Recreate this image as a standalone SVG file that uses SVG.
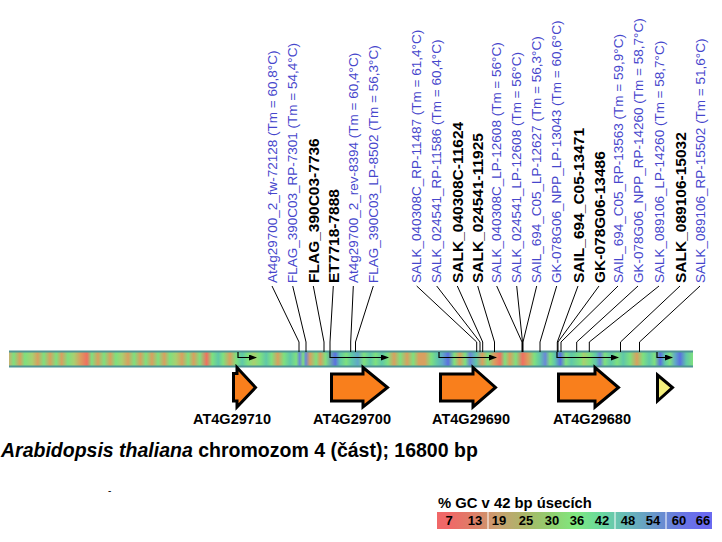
<svg xmlns="http://www.w3.org/2000/svg" width="722" height="542" viewBox="0 0 722 542">
<style>
text{font-family:"Liberation Sans",Arial,sans-serif}
.pb{fill:#4646cc;font-size:13.5px}
.pk{fill:#000;font-size:15.5px;font-weight:bold}
.gl{font-size:14.5px;font-weight:bold;text-anchor:middle}
.gene{fill:#f97f1c;stroke:#000;stroke-width:3;stroke-linejoin:miter}
.con{fill:none;stroke:#000;stroke-width:1}
.tr{fill:none;stroke:#000;stroke-width:1.2;marker-end:url(#ah)}
.lg{font-size:13px;font-weight:bold;text-anchor:middle}
</style>
<defs>
<marker id="ah" markerUnits="userSpaceOnUse" markerWidth="8" markerHeight="6" refX="7" refY="3" orient="auto">
<path d="M0,0 L8,3 L0,6 z" fill="#000"/>
</marker>
<linearGradient id="gc" gradientUnits="userSpaceOnUse" x1="9" y1="0" x2="693" y2="0">
<stop offset="0" stop-color="#c8b070"/>
<stop offset="0.007" stop-color="#7ee07e"/>
<stop offset="0.016" stop-color="#d8a060"/>
<stop offset="0.023" stop-color="#7ee07e"/>
<stop offset="0.034" stop-color="#a8d070"/>
<stop offset="0.042" stop-color="#d8a060"/>
<stop offset="0.051" stop-color="#7ee07e"/>
<stop offset="0.060" stop-color="#d8a060"/>
<stop offset="0.069" stop-color="#7ee07e"/>
<stop offset="0.077" stop-color="#d8a060"/>
<stop offset="0.086" stop-color="#7ee07e"/>
<stop offset="0.095" stop-color="#a8d070"/>
<stop offset="0.104" stop-color="#d8a060"/>
<stop offset="0.114" stop-color="#f07060"/>
<stop offset="0.121" stop-color="#7ee07e"/>
<stop offset="0.130" stop-color="#d8a060"/>
<stop offset="0.139" stop-color="#7ee07e"/>
<stop offset="0.148" stop-color="#d8a060"/>
<stop offset="0.156" stop-color="#7ee07e"/>
<stop offset="0.165" stop-color="#a8d070"/>
<stop offset="0.174" stop-color="#d8a060"/>
<stop offset="0.183" stop-color="#7ee07e"/>
<stop offset="0.192" stop-color="#d8a060"/>
<stop offset="0.200" stop-color="#7ee07e"/>
<stop offset="0.209" stop-color="#d8a060"/>
<stop offset="0.218" stop-color="#7ee07e"/>
<stop offset="0.227" stop-color="#d8a060"/>
<stop offset="0.235" stop-color="#7ee07e"/>
<stop offset="0.244" stop-color="#a8d070"/>
<stop offset="0.253" stop-color="#d8a060"/>
<stop offset="0.262" stop-color="#7ee07e"/>
<stop offset="0.270" stop-color="#d8a060"/>
<stop offset="0.279" stop-color="#7ee07e"/>
<stop offset="0.289" stop-color="#f07060"/>
<stop offset="0.297" stop-color="#7ee07e"/>
<stop offset="0.306" stop-color="#60c8a8"/>
<stop offset="0.313" stop-color="#7ee07e"/>
<stop offset="0.323" stop-color="#d8a060"/>
<stop offset="0.332" stop-color="#7ee07e"/>
<stop offset="0.341" stop-color="#60c8a8"/>
<stop offset="0.349" stop-color="#7ee07e"/>
<stop offset="0.358" stop-color="#a8d070"/>
<stop offset="0.367" stop-color="#7ee07e"/>
<stop offset="0.376" stop-color="#60c8a8"/>
<stop offset="0.384" stop-color="#7ee07e"/>
<stop offset="0.393" stop-color="#d8a060"/>
<stop offset="0.402" stop-color="#7ee07e"/>
<stop offset="0.411" stop-color="#60c8a8"/>
<stop offset="0.420" stop-color="#7ee07e"/>
<stop offset="0.425" stop-color="#6a88d8"/>
<stop offset="0.430" stop-color="#7ee07e"/>
<stop offset="0.434" stop-color="#6a88d8"/>
<stop offset="0.440" stop-color="#d8a060"/>
<stop offset="0.449" stop-color="#7ee07e"/>
<stop offset="0.455" stop-color="#d8a060"/>
<stop offset="0.463" stop-color="#7ee07e"/>
<stop offset="0.477" stop-color="#5a70e0"/>
<stop offset="0.484" stop-color="#60c8a8"/>
<stop offset="0.493" stop-color="#7ee07e"/>
<stop offset="0.501" stop-color="#60c8a8"/>
<stop offset="0.510" stop-color="#60a8c8"/>
<stop offset="0.519" stop-color="#7ee07e"/>
<stop offset="0.528" stop-color="#60c8a8"/>
<stop offset="0.536" stop-color="#7ee07e"/>
<stop offset="0.545" stop-color="#60c8a8"/>
<stop offset="0.554" stop-color="#7ee07e"/>
<stop offset="0.563" stop-color="#d8a060"/>
<stop offset="0.572" stop-color="#7ee07e"/>
<stop offset="0.582" stop-color="#d8a060"/>
<stop offset="0.591" stop-color="#7ee07e"/>
<stop offset="0.599" stop-color="#d8a060"/>
<stop offset="0.608" stop-color="#d8a060"/>
<stop offset="0.617" stop-color="#7ee07e"/>
<stop offset="0.626" stop-color="#60c8a8"/>
<stop offset="0.634" stop-color="#60a8c8"/>
<stop offset="0.642" stop-color="#5a70e0"/>
<stop offset="0.651" stop-color="#7ee07e"/>
<stop offset="0.659" stop-color="#d8a060"/>
<stop offset="0.667" stop-color="#7ee07e"/>
<stop offset="0.674" stop-color="#6a88d8"/>
<stop offset="0.683" stop-color="#60c8a8"/>
<stop offset="0.692" stop-color="#d8a060"/>
<stop offset="0.700" stop-color="#7ee07e"/>
<stop offset="0.709" stop-color="#d8a060"/>
<stop offset="0.718" stop-color="#f07060"/>
<stop offset="0.725" stop-color="#7ee07e"/>
<stop offset="0.732" stop-color="#d8a060"/>
<stop offset="0.741" stop-color="#7ee07e"/>
<stop offset="0.751" stop-color="#f07060"/>
<stop offset="0.759" stop-color="#d8a060"/>
<stop offset="0.768" stop-color="#7ee07e"/>
<stop offset="0.776" stop-color="#60c8a8"/>
<stop offset="0.784" stop-color="#6a88d8"/>
<stop offset="0.791" stop-color="#7ee07e"/>
<stop offset="0.798" stop-color="#60c8a8"/>
<stop offset="0.806" stop-color="#5a70e0"/>
<stop offset="0.814" stop-color="#7ee07e"/>
<stop offset="0.822" stop-color="#60c8a8"/>
<stop offset="0.836" stop-color="#7ee07e"/>
<stop offset="0.840" stop-color="#a8d070"/>
<stop offset="0.849" stop-color="#7ee07e"/>
<stop offset="0.858" stop-color="#60c8a8"/>
<stop offset="0.864" stop-color="#6a88d8"/>
<stop offset="0.871" stop-color="#7ee07e"/>
<stop offset="0.880" stop-color="#60c8a8"/>
<stop offset="0.889" stop-color="#7ee07e"/>
<stop offset="0.898" stop-color="#60c8a8"/>
<stop offset="0.908" stop-color="#7ee07e"/>
<stop offset="0.918" stop-color="#d8a060"/>
<stop offset="0.927" stop-color="#7ee07e"/>
<stop offset="0.936" stop-color="#60c8a8"/>
<stop offset="0.944" stop-color="#7ee07e"/>
<stop offset="0.952" stop-color="#5a70e0"/>
<stop offset="0.959" stop-color="#60c8a8"/>
<stop offset="0.966" stop-color="#7ee07e"/>
<stop offset="0.974" stop-color="#60a8c8"/>
<stop offset="0.981" stop-color="#5a70e0"/>
<stop offset="0.990" stop-color="#60c8a8"/>
<stop offset="1" stop-color="#7ee07e"/>
</linearGradient>
<linearGradient id="lg" gradientUnits="userSpaceOnUse" x1="437" y1="0" x2="712" y2="0">
<stop offset="0.044" stop-color="#f06868"/>
<stop offset="0.138" stop-color="#dc8068"/>
<stop offset="0.222" stop-color="#c8a070"/>
<stop offset="0.327" stop-color="#a8b868"/>
<stop offset="0.418" stop-color="#90d070"/>
<stop offset="0.505" stop-color="#80e880"/>
<stop offset="0.600" stop-color="#68d8a0"/>
<stop offset="0.691" stop-color="#68b8b8"/>
<stop offset="0.785" stop-color="#6898c8"/>
<stop offset="0.880" stop-color="#6878e0"/>
<stop offset="0.964" stop-color="#6a6af0"/>
</linearGradient>
</defs>
<rect width="722" height="542" fill="#fff"/>

<g id="chromosome">
<rect x="9" y="351" width="684" height="16" fill="url(#gc)"/>
<line x1="9" y1="351.5" x2="693" y2="351.5" stroke="#4f9494" stroke-width="2"/>
<line x1="9" y1="366.5" x2="693" y2="366.5" stroke="#4f9494" stroke-width="2"/>
</g>

<g id="connectors">
<polyline class="con" points="272,286 299,342 299,352"/>
<polyline class="con" points="292.7,286 306,342 306,352"/>
<polyline class="con" points="313.3,286 324,342 324,352"/>
<polyline class="con" points="333.3,286 330,342 330,352"/>
<polyline class="con" points="353.3,286 350.7,342 350.7,352"/>
<polyline class="con" points="373.3,286 355.5,342 355.5,352"/>
<polyline class="con" points="416.7,286 476.7,342 476.7,352"/>
<polyline class="con" points="436.7,286 480,342 480,352"/>
<polyline class="con" points="457.3,286 482.7,342 482.7,352"/>
<polyline class="con" points="477.7,286 494.5,342 494.5,352"/>
<polyline class="con" points="496.7,286 522,342 522,352"/>
<polyline class="con" points="516.7,286 522.5,342 522.5,352"/>
<polyline class="con" points="536.7,286 523,342 523,352"/>
<polyline class="con" points="556.7,286 540,342 540,352"/>
<polyline class="con" points="578,286 557.3,342 557.3,352"/>
<polyline class="con" points="599,286 558,342 558,352"/>
<polyline class="con" points="618,286 561,342 561,352"/>
<polyline class="con" points="638,286 576.7,342 576.7,352"/>
<polyline class="con" points="659,286 589.3,342 589.3,352"/>
<polyline class="con" points="680,286 620.5,342 620.5,352"/>
<polyline class="con" points="700,286 639.5,342 639.5,352"/>
<polyline class="tr" points="238,352 238,357.5 256,357.5"/>
<polyline class="tr" points="330,352 330,357.5 388,357.5"/>
<polyline class="tr" points="439,352 439,357.5 496,357.5"/>
<polyline class="tr" points="557,352 557,357.5 618,357.5"/>
<polyline class="tr" points="657,352 657,357.5 672,357.5"/>
</g>

<g id="labels">
<text class="pb" transform="translate(276.5,283) rotate(-90)">At4g29700_2_fw-72128 (Tm = 60,8°C)</text>
<text class="pb" transform="translate(297.2,283) rotate(-90)">FLAG_390C03_RP-7301 (Tm = 54,4°C)</text>
<text class="pk" transform="translate(318.8,283) rotate(-90)">FLAG_390C03-7736</text>
<text class="pk" transform="translate(338.8,283) rotate(-90)">ET7718-7888</text>
<text class="pb" transform="translate(357.8,283) rotate(-90)">At4g29700_2_rev-8394 (Tm = 60,4°C)</text>
<text class="pb" transform="translate(377.8,283) rotate(-90)">FLAG_390C03_LP-8502 (Tm = 56,3°C)</text>
<text class="pb" transform="translate(421.2,283) rotate(-90)">SALK_040308C_RP-11487 (Tm = 61,4°C)</text>
<text class="pb" transform="translate(441.2,283) rotate(-90)">SALK_024541_RP-11586 (Tm = 60,4°C)</text>
<text class="pk" transform="translate(462.8,283) rotate(-90)">SALK_040308C-11624</text>
<text class="pk" transform="translate(483.2,283) rotate(-90)">SALK_024541-11925</text>
<text class="pb" transform="translate(501.2,283) rotate(-90)">SALK_040308C_LP-12608 (Tm = 56°C)</text>
<text class="pb" transform="translate(521.2,283) rotate(-90)">SALK_024541_LP-12608 (Tm = 56°C)</text>
<text class="pb" transform="translate(541.2,283) rotate(-90)">SAIL_694_C05_LP-12627 (Tm = 56,3°C)</text>
<text class="pb" transform="translate(561.2,283) rotate(-90)">GK-078G06_NPP_LP-13043 (Tm = 60,6°C)</text>
<text class="pk" transform="translate(583.5,283) rotate(-90)">SAIL_694_C05-13471</text>
<text class="pk" transform="translate(604.5,283) rotate(-90)">GK-078G06-13486</text>
<text class="pb" transform="translate(622.5,283) rotate(-90)">SAIL_694_C05_RP-13563 (Tm = 59,9°C)</text>
<text class="pb" transform="translate(642.5,283) rotate(-90)">GK-078G06_NPP_RP-14260 (Tm = 58,7°C)</text>
<text class="pb" transform="translate(663.5,283) rotate(-90)">SALK_089106_LP-14260 (Tm = 58,7°C)</text>
<text class="pk" transform="translate(685.5,283) rotate(-90)">SALK_089106-15032</text>
<text class="pb" transform="translate(704.5,283) rotate(-90)">SALK_089106_RP-15502 (Tm = 51,6°C)</text>
</g>

<g id="AT4G29710">
<polygon class="gene" points="233.5,373.5 237,373.5 237,367.5 255.5,387.5 237,407 237,401 233.5,401"/>
<text class="gl" x="232" y="424">AT4G29710</text>
</g>
<g id="AT4G29700">
<polygon class="gene" points="331.5,374 363,374 363,367.5 387.5,387.5 363,407 363,401 331.5,401"/>
<text class="gl" x="352" y="424">AT4G29700</text>
</g>
<g id="AT4G29690">
<polygon class="gene" points="440.5,374 473,374 473,367.5 495.5,387.5 473,407 473,401 440.5,401"/>
<text class="gl" x="471" y="424">AT4G29690</text>
</g>
<g id="AT4G29680">
<polygon class="gene" points="558.5,374 595,374 595,367.5 618.5,387.5 595,407 595,401 558.5,401"/>
<text class="gl" x="592" y="424">AT4G29680</text>
</g>
<g id="gene5">
<polygon points="657.5,375 672.5,387.5 657.5,401" fill="#f4ef7c" stroke="#000" stroke-width="3"/>
</g>

<g id="title">
<text x="1" y="457" font-size="19.5" font-weight="bold"><tspan font-style="italic">Arabidopsis thaliana</tspan> chromozom 4 (část); 16800 bp</text>
<text x="108" y="494" font-size="10">-</text>
</g>

<g id="legend">
<text x="438" y="508" font-size="14.8" font-weight="bold">% GC v 42 bp úsecích</text>
<rect x="437" y="512" width="275" height="17" fill="url(#lg)"/>
<line x1="488" y1="512" x2="488" y2="529" stroke="#fff" stroke-width="1"/>
<line x1="615" y1="512" x2="615" y2="529" stroke="#fff" stroke-width="1"/>
<line x1="666" y1="512" x2="666" y2="529" stroke="#fff" stroke-width="1"/>
<text class="lg" x="449" y="525">7</text>
<text class="lg" x="475" y="525">13</text>
<text class="lg" x="499" y="525">19</text>
<text class="lg" x="526" y="525">25</text>
<text class="lg" x="552" y="525">30</text>
<text class="lg" x="577" y="525">36</text>
<text class="lg" x="602" y="525">42</text>
<text class="lg" x="628" y="525">48</text>
<text class="lg" x="653" y="525">54</text>
<text class="lg" x="679" y="525">60</text>
<text class="lg" x="703" y="525">66</text>
</g>
</svg>
